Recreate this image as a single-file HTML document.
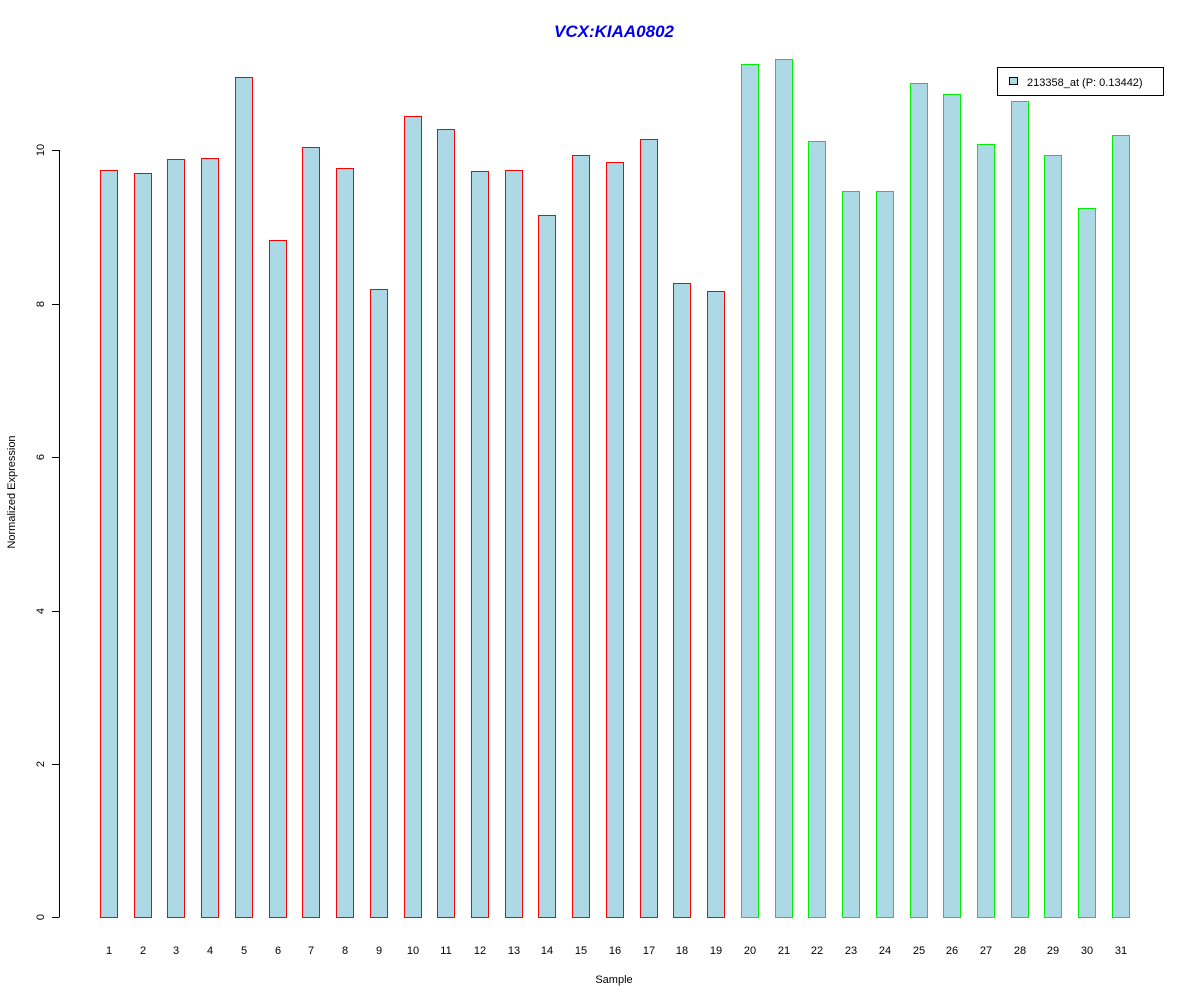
<!DOCTYPE html>
<html><head><meta charset="utf-8"><style>html,body{margin:0;padding:0;background:#fff}svg{display:block}</style></head>
<body>
<svg width="1200" height="1000" xmlns="http://www.w3.org/2000/svg" font-family="Liberation Sans, sans-serif">
<rect width="1200" height="1000" fill="#fff"/>
<text x="614" y="37" text-anchor="middle" font-size="17" font-weight="bold" font-style="italic" fill="#0000ee">VCX:KIAA0802</text>
<g stroke="#000" stroke-width="1" fill="none">
<line x1="59.5" y1="150" x2="59.5" y2="917"/>
<line x1="52" y1="917.5" x2="59.5" y2="917.5"/>
<line x1="52" y1="764.5" x2="59.5" y2="764.5"/>
<line x1="52" y1="611.5" x2="59.5" y2="611.5"/>
<line x1="52" y1="457.5" x2="59.5" y2="457.5"/>
<line x1="52" y1="304.5" x2="59.5" y2="304.5"/>
<line x1="52" y1="150.5" x2="59.5" y2="150.5"/>
</g>
<g font-size="11" text-anchor="middle" fill="#000">
<text transform="translate(44,917) rotate(-90)">0</text>
<text transform="translate(44,764) rotate(-90)">2</text>
<text transform="translate(44,611) rotate(-90)">4</text>
<text transform="translate(44,457) rotate(-90)">6</text>
<text transform="translate(44,304) rotate(-90)">8</text>
<text transform="translate(44,150) rotate(-90)">10</text>
<text transform="translate(15,492) rotate(-90)">Normalized Expression</text>
<text x="614" y="983">Sample</text>
</g>
<g fill="#add8e6" stroke="#ff0000">
<rect x="100.5" y="170.5" width="17" height="747"/>
<rect x="134.5" y="173.5" width="17" height="744"/>
<rect x="167.5" y="159.5" width="17" height="758"/>
<rect x="201.5" y="158.5" width="17" height="759"/>
<rect x="235.5" y="77.5" width="17" height="840"/>
<rect x="269.5" y="240.5" width="17" height="677"/>
<rect x="302.5" y="147.5" width="17" height="770"/>
<rect x="336.5" y="168.5" width="17" height="749"/>
<rect x="370.5" y="289.5" width="17" height="628"/>
<rect x="404.5" y="116.5" width="17" height="801"/>
<rect x="437.5" y="129.5" width="17" height="788"/>
<rect x="471.5" y="171.5" width="17" height="746"/>
<rect x="505.5" y="170.5" width="17" height="747"/>
<rect x="538.5" y="215.5" width="17" height="702"/>
<rect x="572.5" y="155.5" width="17" height="762"/>
<rect x="606.5" y="162.5" width="17" height="755"/>
<rect x="640.5" y="139.5" width="17" height="778"/>
<rect x="673.5" y="283.5" width="17" height="634"/>
<rect x="707.5" y="291.5" width="17" height="626"/>
</g>
<g fill="#add8e6" stroke="#00ee00">
<rect x="741.5" y="64.5" width="17" height="853"/>
<rect x="775.5" y="59.5" width="17" height="858"/>
<rect x="808.5" y="141.5" width="17" height="776"/>
<rect x="842.5" y="191.5" width="17" height="726"/>
<rect x="876.5" y="191.5" width="17" height="726"/>
<rect x="910.5" y="83.5" width="17" height="834"/>
<rect x="943.5" y="94.5" width="17" height="823"/>
<rect x="977.5" y="144.5" width="17" height="773"/>
<rect x="1011.5" y="101.5" width="17" height="816"/>
<rect x="1044.5" y="155.5" width="17" height="762"/>
<rect x="1078.5" y="208.5" width="17" height="709"/>
<rect x="1112.5" y="135.5" width="17" height="782"/>
</g>
<g font-size="11" text-anchor="middle" fill="#000">
<text x="109" y="954">1</text><text x="143" y="954">2</text><text x="176" y="954">3</text><text x="210" y="954">4</text>
<text x="244" y="954">5</text><text x="278" y="954">6</text><text x="311" y="954">7</text><text x="345" y="954">8</text>
<text x="379" y="954">9</text><text x="413" y="954">10</text><text x="446" y="954">11</text><text x="480" y="954">12</text>
<text x="514" y="954">13</text><text x="547" y="954">14</text><text x="581" y="954">15</text><text x="615" y="954">16</text>
<text x="649" y="954">17</text><text x="682" y="954">18</text><text x="716" y="954">19</text><text x="750" y="954">20</text>
<text x="784" y="954">21</text><text x="817" y="954">22</text><text x="851" y="954">23</text><text x="885" y="954">24</text>
<text x="919" y="954">25</text><text x="952" y="954">26</text><text x="986" y="954">27</text><text x="1020" y="954">28</text>
<text x="1053" y="954">29</text><text x="1087" y="954">30</text><text x="1121" y="954">31</text>
</g>
<rect x="997.5" y="67.5" width="166" height="28" fill="#fff" stroke="#000"/>
<rect x="1009.5" y="77.5" width="8" height="7" fill="#add8e6" stroke="#000"/>
<text x="1027" y="86" font-size="11">213358_at (P: 0.13442)</text>
</svg>
</body></html>
